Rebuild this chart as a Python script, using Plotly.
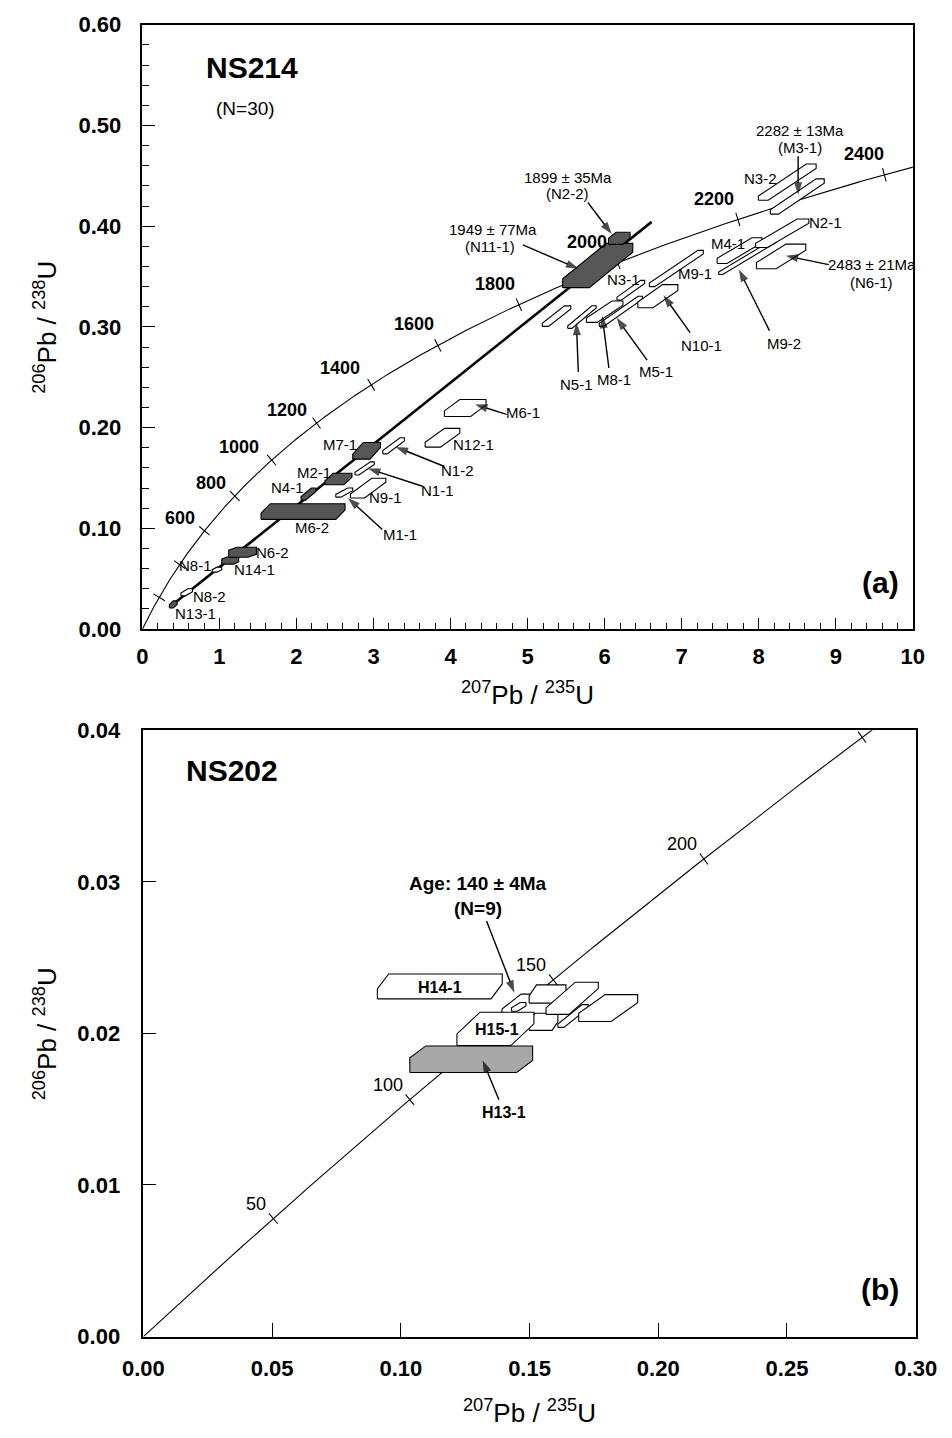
import numpy as np
import plotly.graph_objects as go

# ---------------- constants (decay) ----------------
L238 = 1.55125e-10
L235 = 9.8485e-10

# ---------------- data: panel (a) NS214 ----------------
a_names = ["N13-1", "N8-2", "N8-1", "N14-1", "N6-2", "M6-2", "N4-1", "M2-1", "M7-1",
           "N1-2", "N1-1", "N9-1", "M1-1", "N12-1", "M6-1", "N11-1", "N2-2",
           "U-1", "N5-1", "M8-1", "M5-1", "N3-1", "M9-1", "N10-1", "M4-1",
           "M9-2", "N2-1", "N6-1", "N3-2", "M3-1"]
a_x = [0.40, 0.575, 0.968, 1.14, 1.30, 2.085, 2.155, 2.545, 2.91,
       3.26, 2.885, 2.93, 2.62, 3.895, 4.19, 5.91, 6.19,
       5.375, 5.705, 6.00, 6.21, 6.34, 6.93, 6.69, 7.75,
       7.855, 8.305, 8.29, 8.37, 8.50]
a_y = [0.0245, 0.0365, 0.059, 0.068, 0.0763, 0.1167, 0.134, 0.149, 0.177,
       0.182, 0.1595, 0.140, 0.1355, 0.190, 0.2195, 0.361, 0.388,
       0.3107, 0.3098, 0.3151, 0.3155, 0.3364, 0.358, 0.3305, 0.3758,
       0.3693, 0.393, 0.370, 0.4437, 0.4295]
a_sx = [0.05, 0.075, 0.062, 0.11, 0.18, 0.545, 0.095, 0.175, 0.18,
        0.14, 0.125, 0.23, 0.11, 0.225, 0.27, 0.455, 0.14,
        0.185, 0.185, 0.237, 0.28, 0.18, 0.35, 0.26, 0.29,
        0.375, 0.345, 0.32, 0.375, 0.35]
a_sy = [0.0035, 0.0035, 0.0025, 0.0035, 0.005, 0.0078, 0.006, 0.0057, 0.0083,
        0.008, 0.0065, 0.0098, 0.0045, 0.0093, 0.0085, 0.022, 0.006,
        0.0102, 0.0112, 0.0106, 0.015, 0.0098, 0.018, 0.0115, 0.0128,
        0.0173, 0.0142, 0.0122, 0.018, 0.0175]
a_cx = [0.5, 0.6, 0.5, 0.3, 0.3, 0.11, 0.7, 0.3, 0.38,
        0.8, 0.8, 0.6, 0.7, 0.56, 0.37, 0.62, 0.35,
        0.78, 0.85, 0.7, 0.9, 0.85, 0.9, 0.62, 0.78,
        0.93, 0.78, 0.6, 0.83, 0.85]
a_cy = [0.5, 0.6, 0.5, 0.3, 0.3, 0.6, 0.7, 0.65, 0.7,
        0.8, 0.8, 0.8, 0.7, 0.74, 0.67, 0.8, 0.5,
        0.85, 0.9, 0.8, 0.9, 0.85, 0.9, 0.75, 0.8,
        0.93, 0.85, 0.75, 0.88, 0.88]
a_dark = [1, 0, 0, 1, 1, 1, 1, 1, 1,
          0, 0, 0, 0, 0, 0, 1, 1,
          0, 0, 0, 0, 0, 0, 0, 0,
          0, 0, 0, 0, 0]

disc_x = [0.37, 6.61]
disc_y = [0.0229, 0.4043]

a_tick_ages = [200, 400, 600, 800, 1000, 1200, 1400, 1600, 1800, 2000, 2200, 2400]
a_label_ages = [600, 800, 1000, 1200, 1400, 1600, 1800, 2000, 2200, 2400]

a_text = ["N8-1", "N8-2", "N13-1", "N14-1", "N6-2", "M6-2", "N4-1", "M2-1", "M7-1",
          "N1-2", "N1-1", "N9-1", "M1-1", "N12-1", "M6-1", "N3-1", "M9-1", "N5-1",
          "M8-1", "M5-1", "N10-1", "M4-1", "M9-2", "N2-1", "N3-2",
          "1899 ± 35Ma", "(N2-2)", "1949 ± 77Ma", "(N11-1)",
          "2483 ± 21Ma", "(N6-1)", "2282 ± 13Ma", "(M3-1)"]
a_text_x = [0.695, 0.868, 0.695, 1.452, 1.687, 2.196, 1.886, 2.221, 2.568,
            4.094, 3.834, 3.151, 3.350, 4.293, 4.938, 6.241, 7.171, 5.633,
            6.117, 6.663, 7.258, 7.605, 8.325, 8.871, 8.027,
            5.521, 5.521, 4.553, 4.516,
            9.467, 9.467, 8.536, 8.536]
a_text_y = [0.0636, 0.0323, 0.0156, 0.0587, 0.0763, 0.1007, 0.1408, 0.1555, 0.1829,
            0.1575, 0.1379, 0.1311, 0.0939, 0.1829, 0.2152, 0.3472, 0.3531, 0.2425,
            0.2474, 0.2553, 0.2817, 0.3824, 0.2836, 0.4039, 0.4469,
            0.4479, 0.4323, 0.3971, 0.3795,
            0.3619, 0.3443, 0.4949, 0.4782]

# arrows: tail -> tip
a_arr_tail_x = [3.921, 3.635, 3.114, 4.727, 5.782, 4.938, 5.658, 6.055, 6.551, 7.109, 8.139, 8.908, 8.511]
a_arr_tail_y = [0.1614, 0.1418, 0.0988, 0.2132, 0.4235, 0.3814, 0.2553, 0.2592, 0.2670, 0.2944, 0.2963, 0.3619, 0.4694]
a_arr_tip_x = [3.288, 2.928, 2.667, 4.318, 6.092, 5.658, 5.633, 5.968, 6.154, 6.762, 7.742, 8.350, 8.511]
a_arr_tip_y = [0.1809, 0.1594, 0.1301, 0.2230, 0.3922, 0.3579, 0.3042, 0.3110, 0.3090, 0.3315, 0.3570, 0.3707, 0.4313]

# ---------------- data: panel (b) NS202 ----------------
b_names = ["C", "B", "hole", "E", "F", "G", "D", "H15-1", "H14-1", "H13-1"]
b_x = [0.1517, 0.157, 0.1458, 0.15545, 0.1669, 0.18055, 0.16655, 0.13675, 0.11515, 0.12735]
b_y = [0.0217, 0.0226, 0.02175, 0.020765, 0.02115, 0.021675, 0.02232, 0.0203, 0.0231, 0.0183]
b_sx = [0.0124, 0.00715, 0.0028, 0.00555, 0.0059, 0.01145, 0.01015, 0.01495, 0.02425, 0.02385]
b_sy = [0.00089, 0.0006, 0.00029, 0.000565, 0.00075, 0.000885, 0.00106, 0.0011, 0.00082, 0.000875]
b_cx = [0.3, 0.2, 0.6, 0.2, 0.8, 0.45, 0.56, 0.3, 0.09, 0.13]
b_cy = [0.55, 0.6, 0.6, 0.5, 0.85, 0.7, 0.8, 0.65, 0.6, 0.45]
b_dark = [0, 0, 0, 0, 0, 0, 0, 0, 0, 1]

b_tick_ages = [50, 100, 150, 200, 250]
b_label_ages = [50, 100, 150, 200]

b_text = ["H14-1", "H15-1", "H13-1"]
b_text_x = [0.1151, 0.1374, 0.1400]
b_text_y = [0.02301, 0.02029, 0.01478]

b_arr_tail_x = [0.1333, 0.1381]
b_arr_tail_y = [0.02742, 0.01562]
b_arr_tip_x = [0.1441, 0.1318]
b_arr_tip_y = [0.02269, 0.01822]

# ---------------- geometry ----------------
W, H = 952, 1438
A_X0, A_X1, A_YB, A_YT = 127, 933, 628, 13
B_X0, B_X1, B_YB, B_YT = 128, 936, 1348, 731
A_XR, A_YR = [0, 10], [0, 0.6]
B_XR, B_YR = [0, 0.30], [0, 0.04]

NARROW = "Liberation Sans Narrow, Arial Narrow, Liberation Sans, Arial"
SANS = "Liberation Sans, Arial, Helvetica"


def conc(t_ma):
    t = np.asarray(t_ma, dtype=float) * 1e6
    return np.exp(L235 * t) - 1, np.exp(L238 * t) - 1


def hexbox(x, y, dx, dy, fx, fy):
    cx, cy = fx * 2 * dx, fy * 2 * dy
    xs = [x - dx, x + dx - cx, x + dx, x + dx, x - dx + cx, x - dx, x - dx]
    ys = [y - dy, y - dy, y - dy + cy, y + dy, y + dy, y + dy - cy, y - dy]
    return xs, ys


def tick_segs(ages, sx, sy, half):
    xs, ys = [], []
    for t in ages:
        x, y = conc(t)
        dxdt = L235 * np.exp(L235 * t * 1e6)
        dydt = L238 * np.exp(L238 * t * 1e6)
        tx, ty = dxdt * sx, dydt * sy
        n = np.hypot(tx, ty)
        nx, ny = -ty / n, tx / n
        xs += [x - half * nx / sx, x + half * nx / sx, None]
        ys += [y - half * ny / sy, y + half * ny / sy, None]
    return xs, ys


def add_arrows(fig, tx, ty, hx, hy, xa, ya):
    for x0, y0, x1, y1 in zip(tx, ty, hx, hy):
        fig.add_trace(go.Scatter(x=[x0, x1], y=[y0, y1], mode="lines+markers",
                                 line=dict(color="black", width=1.4),
                                 marker=dict(symbol="arrow", angleref="previous", size=[0, 13],
                                             color="black", line=dict(width=0)),
                                 xaxis=xa, yaxis=ya, hoverinfo="skip"))


fig = go.Figure()

# ---- panel a ----
sxA = (A_X1 - A_X0) / (A_XR[1] - A_XR[0])
syA = (A_YB - A_YT) / (A_YR[1] - A_YR[0])
tt = np.linspace(0, 2700, 600)
cx_, cy_ = conc(tt)
fig.add_trace(go.Scatter(x=cx_, y=cy_, mode="lines", line=dict(color="black", width=1.1),
                         xaxis="x", yaxis="y", hoverinfo="skip"))
tx_, ty_ = tick_segs(a_tick_ages, sxA, syA, 7)
fig.add_trace(go.Scatter(x=tx_, y=ty_, mode="lines", line=dict(color="black", width=1.1),
                         xaxis="x", yaxis="y", hoverinfo="skip"))
fig.add_trace(go.Scatter(x=disc_x, y=disc_y, mode="lines", line=dict(color="black", width=2.6),
                         xaxis="x", yaxis="y", hoverinfo="skip"))
for i in range(len(a_x)):
    xs, ys = hexbox(a_x[i], a_y[i], a_sx[i], a_sy[i], a_cx[i], a_cy[i])
    fig.add_trace(go.Scatter(x=xs, y=ys, mode="lines", fill="toself",
                             fillcolor="#565656" if a_dark[i] else "white",
                             line=dict(color="black", width=1.1), name=a_names[i],
                             xaxis="x", yaxis="y", hoverinfo="name"))
add_arrows(fig, a_arr_tail_x, a_arr_tail_y, a_arr_tip_x, a_arr_tip_y, "x", "y")

# ---- panel b ----
sxB = (B_X1 - B_X0) / (B_XR[1] - B_XR[0])
syB = (B_YB - B_YT) / (B_YR[1] - B_YR[0])
tt2 = np.linspace(0, 300, 200)
cx2, cy2 = conc(tt2)
fig.add_trace(go.Scatter(x=cx2, y=cy2, mode="lines", line=dict(color="black", width=1.1),
                         xaxis="x2", yaxis="y2", hoverinfo="skip"))
tx2, ty2 = tick_segs(b_tick_ages, sxB, syB, 7)
fig.add_trace(go.Scatter(x=tx2, y=ty2, mode="lines", line=dict(color="black", width=1.1),
                         xaxis="x2", yaxis="y2", hoverinfo="skip"))
for i in range(len(b_x)):
    xs, ys = hexbox(b_x[i], b_y[i], b_sx[i], b_sy[i], b_cx[i], b_cy[i])
    fig.add_trace(go.Scatter(x=xs, y=ys, mode="lines", fill="toself",
                             fillcolor="#a8a8a8" if b_dark[i] else "white",
                             line=dict(color="black", width=1.1), name=b_names[i],
                             xaxis="x2", yaxis="y2", hoverinfo="name"))
add_arrows(fig, b_arr_tail_x, b_arr_tail_y, b_arr_tip_x, b_arr_tip_y, "x2", "y2")

ann = []
a_shift = {600: (-7, 1), 800: (-7, 1), 1000: (-11, 1), 1200: (-8, 1), 1400: (-9, 5),
           1600: (-2, 9), 1800: (-2, 9), 2000: (-9, 9), 2200: (-2, 8), 2400: (2, 9)}
for t in a_label_ages:
    x, y = conc(t)
    sh = a_shift[t]
    ann.append(dict(x=float(x), y=float(y), xref="x", yref="y", text=str(t), showarrow=False,
                    xanchor="right", yanchor="bottom", xshift=sh[0], yshift=sh[1],
                    font=dict(family=SANS, size=18, color="black", weight="bold")))
for t in b_label_ages:
    x, y = conc(t)
    ann.append(dict(x=float(x), y=float(y), xref="x2", yref="y2", text=str(t), showarrow=False,
                    xanchor="right", yanchor="bottom", xshift=-5, yshift=3,
                    font=dict(family=SANS, size=18, color="black")))

for t, x, y in zip(a_text, a_text_x, a_text_y):
    ann.append(dict(x=x, y=y, xref="x", yref="y", text=t, showarrow=False,
                    xanchor="center", yanchor="middle",
                    font=dict(family=NARROW, size=15, color="black")))
for t, x, y in zip(b_text, b_text_x, b_text_y):
    ann.append(dict(x=x, y=y, xref="x2", yref="y2", text=t, showarrow=False,
                    xanchor="center", yanchor="middle",
                    font=dict(family=NARROW, size=16, color="black", weight="bold")))

ann += [
    dict(x=1.427, y=0.5575, xref="x", yref="y", text="NS214", showarrow=False,
         font=dict(family=SANS, size=30, color="black", weight="bold")),
    dict(x=1.340, y=0.5164, xref="x", yref="y", text="(N=30)", showarrow=False,
         font=dict(family=SANS, size=19, color="black")),
    dict(x=9.578, y=0.046, xref="x", yref="y", text="(a)", showarrow=False,
         font=dict(family=NARROW, size=30, color="black", weight="bold")),
    dict(x=0.0345, y=0.03734, xref="x2", yref="y2", text="NS202", showarrow=False,
         font=dict(family=SANS, size=30, color="black", weight="bold")),
    dict(x=0.130, y=0.02989, xref="x2", yref="y2", text="Age: 140 ± 4Ma", showarrow=False,
         font=dict(family=SANS, size=19, color="black", weight="bold")),
    dict(x=0.130, y=0.02827, xref="x2", yref="y2", text="(N=9)", showarrow=False,
         font=dict(family=SANS, size=19, color="black", weight="bold")),
    dict(x=0.2863, y=0.00311, xref="x2", yref="y2", text="(b)", showarrow=False,
         font=dict(family=NARROW, size=30, color="black", weight="bold")),
]
xt = "<sup>207</sup>Pb / <sup>235</sup>U"
yt = "<sup>206</sup>Pb / <sup>238</sup>U"
tfont = dict(family=NARROW, size=26, color="black")
ann += [
    dict(x=(A_X0 + A_X1) / 2 / W, y=1 - 694 / H, xref="paper", yref="paper", text=xt,
         xanchor="center", yanchor="middle", showarrow=False, font=tfont),
    dict(x=(B_X0 + B_X1) / 2 / W, y=1 - 1424 / H, xref="paper", yref="paper", text=xt,
         xanchor="center", yanchor="middle", showarrow=False, font=tfont),
    dict(x=26 / W, y=1 - (A_YB + A_YT) / 2 / H, xref="paper", yref="paper", text=yt,
         xanchor="center", yanchor="middle", textangle=-90, showarrow=False, font=tfont),
    dict(x=26 / W, y=1 - (B_YB + B_YT) / 2 / H, xref="paper", yref="paper", text=yt,
         xanchor="center", yanchor="middle", textangle=-90, showarrow=False, font=tfont),
]

tickfont = dict(family=SANS, size=22, color="black", weight="bold")
common = dict(showline=True, linecolor="black", linewidth=1.5, mirror=True, ticks="inside",
              tickcolor="black", tickwidth=1.2, showgrid=False, zeroline=False,
              tickfont=tickfont)

fig.update_layout(
    width=W, height=H, margin=dict(l=0, r=0, t=0, b=0),
    paper_bgcolor="white", plot_bgcolor="white", showlegend=False,
    xaxis=dict(domain=[A_X0 / W, A_X1 / W], range=A_XR, anchor="y", dtick=1, tick0=0,
               ticklen=11, ticklabelstandoff=7,
               minor=dict(dtick=0.2, ticks="inside", ticklen=6, tickcolor="black", tickwidth=1),
               **common),
    yaxis=dict(domain=[1 - A_YB / H, 1 - A_YT / H], range=A_YR, anchor="x", dtick=0.1, tick0=0,
               tickformat=".2f", ticklen=13, ticklabelstandoff=15,
               minor=dict(dtick=0.02, ticks="inside", ticklen=7, tickcolor="black", tickwidth=1),
               **common),
    xaxis2=dict(domain=[B_X0 / W, B_X1 / W], range=B_XR, anchor="y2", dtick=0.05, tick0=0,
                tickformat=".2f", ticklen=14, ticklabelstandoff=11, **common),
    yaxis2=dict(domain=[1 - B_YB / H, 1 - B_YT / H], range=B_YR, anchor="x2", dtick=0.01, tick0=0,
                tickformat=".2f", ticklen=13, ticklabelstandoff=17, **common),
    annotations=ann,
)

fig.write_html("out.html")
